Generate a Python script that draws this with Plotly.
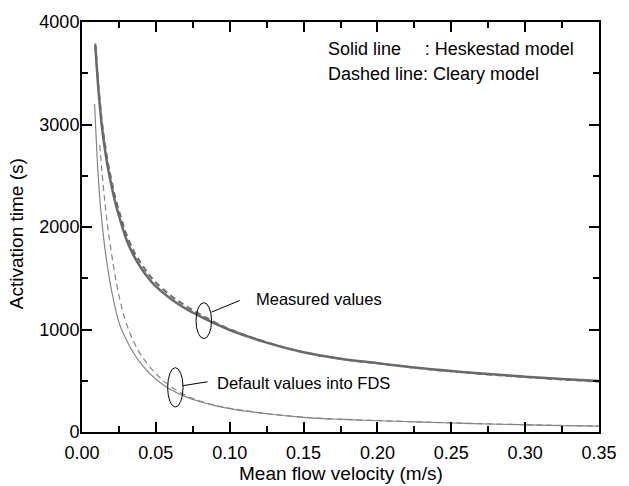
import plotly.graph_objects as go

# ---- data ----
meas_x = [0.009, 0.01, 0.011, 0.0125, 0.0133, 0.015, 0.0175, 0.02, 0.0225, 0.025, 0.0275, 0.03,
          0.035, 0.04, 0.045, 0.05, 0.06, 0.07, 0.08, 0.09, 0.10,
          0.125, 0.15, 0.175, 0.20, 0.225, 0.25, 0.275, 0.30, 0.325, 0.35]
meas_heskestad = [3770, 3560, 3360, 3120, 3000, 2810, 2580, 2400, 2240, 2110, 1990, 1880,
                  1720, 1600, 1500, 1420, 1300, 1205, 1128, 1058, 995,
                  872, 778, 715, 672, 630, 595, 565, 540, 517, 497]
meas_cleary = [3790, 3600, 3400, 3165, 3050, 2860, 2630, 2450, 2290, 2160, 2040, 1930,
               1765, 1645, 1540, 1458, 1332, 1232, 1148, 1070, 1002,
               874, 778, 714, 670, 628, 592, 562, 536, 513, 492]

def_h_x = [0.0085, 0.0095, 0.0108, 0.0125, 0.015, 0.0175, 0.02, 0.025, 0.03, 0.035, 0.04,
           0.05, 0.06, 0.07, 0.08, 0.09, 0.10,
           0.125, 0.15, 0.175, 0.20, 0.225, 0.25, 0.275, 0.30, 0.325, 0.35]
def_heskestad = [3200, 2900, 2540, 2200, 1850, 1590, 1380, 1070, 900, 770, 665,
                 515, 415, 345, 295, 258, 228,
                 178, 143, 123, 110, 99, 88, 78, 70, 63, 57]
def_c_x = [0.012, 0.0142, 0.0165, 0.02, 0.025, 0.03, 0.035, 0.04,
           0.05, 0.06, 0.07, 0.08, 0.09, 0.10,
           0.125, 0.15, 0.175, 0.20, 0.225, 0.25, 0.275, 0.30, 0.325, 0.35]
def_cleary = [2800, 2430, 2110, 1740, 1330, 1060, 880, 750,
              570, 445, 360, 302, 262, 232,
              180, 145, 125, 112, 100, 90, 80, 71, 64, 58]

x_ticks = [0.0, 0.05, 0.10, 0.15, 0.20, 0.25, 0.30, 0.35]
x_ticklabels = ["0.00", "0.05", "0.10", "0.15", "0.20", "0.25", "0.30", "0.35"]
y_ticks = [0, 1000, 2000, 3000, 4000]
y_ticklabels = ["0", "1000", "2000", "3000", "4000"]

FONT = "Liberation Sans, Arial, sans-serif"
GRAY = "#6a6a6a"
LGRAY = "#858585"

fig = go.Figure()
fig.add_trace(go.Scatter(x=meas_x, y=meas_heskestad, mode="lines",
                         line=dict(color=GRAY, width=2.5, shape="spline", smoothing=1.0)))
fig.add_trace(go.Scatter(x=meas_x, y=meas_cleary, mode="lines",
                         line=dict(color=GRAY, width=2, dash="6px,4px", shape="spline", smoothing=1.0)))
fig.add_trace(go.Scatter(x=def_h_x, y=def_heskestad, mode="lines",
                         line=dict(color=LGRAY, width=1.2, shape="spline", smoothing=1.0)))
fig.add_trace(go.Scatter(x=def_c_x, y=def_cleary, mode="lines",
                         line=dict(color=LGRAY, width=1.2, dash="6px,4px", shape="spline", smoothing=1.0)))

axis_common = dict(showline=True, linecolor="black", linewidth=2, mirror="ticks",
                   ticks="inside", ticklen=10, tickwidth=2, tickcolor="black",
                   showgrid=False, zeroline=False,
                   tickfont=dict(family=FONT, size=18, color="black"))

fig.update_xaxes(range=[0, 0.35], tickvals=x_ticks, ticktext=x_ticklabels, ticklabelstandoff=3,
                 minor=dict(ticks="inside", ticklen=6, tickwidth=1.5, tickcolor="black", dtick=0.025,
                            tick0=0, showgrid=False),
                 **axis_common)
fig.update_yaxes(range=[0, 4000], tickvals=y_ticks, ticktext=y_ticklabels, ticklabelstandoff=-3,
                 minor=dict(ticks="inside", ticklen=6, tickwidth=1.5, tickcolor="black", dtick=500,
                            tick0=0, showgrid=False),
                 **axis_common)

# ellipses and leader lines
fig.add_shape(type="circle", xref="x", yref="y", x0=0.0772, x1=0.0877, y0=911, y1=1262,
              line=dict(color="black", width=1))
fig.add_shape(type="line", xref="x", yref="y", x0=0.0877, y0=1170, x1=0.1068, y1=1283,
              line=dict(color="black", width=1))
fig.add_shape(type="circle", xref="x", yref="y", x0=0.0580, x1=0.0684, y0=243, y1=628,
              line=dict(color="black", width=1))
fig.add_shape(type="line", xref="x", yref="y", x0=0.0684, y0=452, x1=0.0850, y1=490,
              line=dict(color="black", width=1))

cfont = dict(family=FONT, size=16.5, color="black")
lfont = dict(family=FONT, size=18, color="black")
fig.add_annotation(x=0.1162, y=1300, xref="x", yref="y", text="Measured values",
                   showarrow=False, xanchor="left", yanchor="middle", font=cfont)
fig.add_annotation(x=0.0903, y=481, xref="x", yref="y", text="Default values into FDS",
                   showarrow=False, xanchor="left", yanchor="middle", font=cfont)
fig.add_annotation(x=0.1655, y=3735, xref="x", yref="y",
                   text="Solid line\u00a0\u00a0\u00a0\u00a0\u2009: Heskestad model",
                   showarrow=False, xanchor="left", yanchor="middle", font=lfont)
fig.add_annotation(x=0.1655, y=3492, xref="x", yref="y", text="Dashed line: Cleary model",
                   showarrow=False, xanchor="left", yanchor="middle", font=lfont)

# axis titles
fig.add_annotation(x=0.5, y=-(474 - 432) / 416, xref="x domain", yref="y domain",
                   text="Mean flow velocity (m/s)",
                   showarrow=False, xanchor="center", yanchor="middle",
                   font=dict(family=FONT, size=19, color="black"))
fig.add_annotation(x=(16 - 82) / 527, y=(432 - 231) / 416, xref="x domain", yref="y domain",
                   text="Activation time (s)", showarrow=False, textangle=-90,
                   xanchor="center", yanchor="middle",
                   font=dict(family=FONT, size=19, color="black"))

fig.update_layout(width=629, height=486, margin=dict(l=82, r=20, t=16, b=54),
                  plot_bgcolor="white", paper_bgcolor="white", showlegend=False)

fig.write_html("out.html")
